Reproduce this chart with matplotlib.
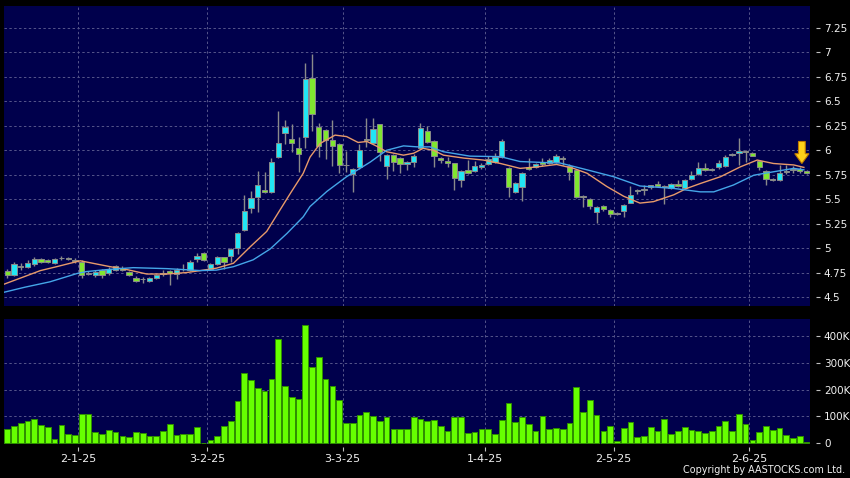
import matplotlib
matplotlib.use('Agg')
import matplotlib.pyplot as plt
from matplotlib.patches import FancyArrow
import numpy as np

# ---------------- data ----------------
opens = [4.77, 4.72, 4.82, 4.81, 4.84, 4.89, 4.88, 4.85, 4.90, 4.90,
         4.88, 4.86, 4.75, 4.72, 4.78, 4.75, 4.78, 4.80, 4.755, 4.69,
         4.68, 4.66, 4.69, 4.74, 4.765, 4.74, 4.79, 4.78, 4.89, 4.945,
         4.79, 4.84, 4.905, 4.92, 5.00, 5.185, 5.41, 5.52, 5.59, 5.57,
         5.93, 6.18, 6.12, 6.02, 6.14, 6.735, 6.235, 6.21, 6.105, 6.06,
         5.85, 5.76, 5.825, 6.12, 6.07, 6.265, 5.84, 5.95, 5.92, 5.855,
         5.885, 6.02, 6.20, 6.09, 5.92, 5.895, 5.865, 5.70, 5.80, 5.79,
         5.825, 5.86, 5.88, 5.93, 5.82, 5.575, 5.62, 5.825, 5.83, 5.885,
         5.87, 5.88, 5.925, 5.84, 5.80, 5.53, 5.50, 5.37, 5.43, 5.39,
         5.36, 5.375, 5.465, 5.58, 5.59, 5.62, 5.66, 5.635, 5.61, 5.66,
         5.61, 5.705, 5.76, 5.815, 5.80, 5.825, 5.84, 5.95, 5.975, 5.99,
         5.97, 5.895, 5.79, 5.71, 5.70, 5.78, 5.80, 5.805, 5.79]
highs = [4.79, 4.86, 4.85, 4.88, 4.91, 4.90, 4.89, 4.90, 4.92, 4.91,
         4.90, 4.88, 4.77, 4.78, 4.79, 4.81, 4.83, 4.82, 4.77, 4.71,
         4.70, 4.70, 4.74, 4.78, 4.78, 4.80, 4.84, 4.88, 4.95, 4.96,
         4.85, 4.92, 4.91, 5.00, 5.16, 5.54, 5.585, 5.79, 5.78, 5.92,
         6.40, 6.31, 6.27, 6.14, 6.895, 6.985, 6.275, 6.22, 6.31, 6.07,
         5.99, 5.82, 6.06, 6.33, 6.33, 6.27, 5.96, 5.96, 5.93, 5.89,
         5.96, 6.275, 6.25, 6.10, 5.93, 5.93, 5.87, 5.80, 5.90, 5.89,
         5.87, 5.94, 5.975, 6.12, 5.83, 5.68, 5.78, 5.92, 5.87, 5.92,
         5.92, 5.96, 5.94, 5.86, 5.81, 5.54, 5.51, 5.43, 5.44, 5.40,
         5.37, 5.45, 5.63, 5.60, 5.645, 5.65, 5.69, 5.64, 5.67, 5.70,
         5.71, 5.79, 5.88, 5.87, 5.82, 5.90, 5.95, 5.97, 6.13, 6.00,
         5.98, 5.90, 5.80, 5.72, 5.85, 5.85, 5.84, 5.83, 5.80]
lows = [4.69, 4.71, 4.78, 4.80, 4.82, 4.85, 4.85, 4.84, 4.88, 4.88,
        4.85, 4.69, 4.72, 4.70, 4.69, 4.73, 4.77, 4.77, 4.71, 4.65,
        4.64, 4.65, 4.68, 4.71, 4.62, 4.68, 4.77, 4.77, 4.86, 4.87,
        4.78, 4.83, 4.79, 4.86, 4.94, 5.17, 5.355, 5.37, 5.56, 5.56,
        5.92, 6.06, 5.985, 5.78, 6.02, 6.20, 5.93, 5.91, 5.84, 5.765,
        5.78, 5.57, 5.81, 6.03, 6.06, 5.89, 5.71, 5.79, 5.765, 5.80,
        5.83, 6.01, 6.07, 5.83, 5.87, 5.83, 5.59, 5.62, 5.76, 5.78,
        5.81, 5.85, 5.87, 5.92, 5.52, 5.56, 5.485, 5.80, 5.82, 5.84,
        5.86, 5.87, 5.85, 5.695, 5.51, 5.42, 5.40, 5.26, 5.38, 5.32,
        5.34, 5.315, 5.46, 5.55, 5.545, 5.60, 5.62, 5.45, 5.60, 5.62,
        5.60, 5.70, 5.75, 5.79, 5.79, 5.81, 5.83, 5.94, 5.85, 5.88,
        5.94, 5.80, 5.65, 5.69, 5.69, 5.76, 5.77, 5.77, 5.76]
closes = [4.72, 4.84, 4.81, 4.85, 4.89, 4.86, 4.86, 4.89, 4.90, 4.89,
          4.87, 4.72, 4.74, 4.76, 4.72, 4.79, 4.82, 4.78, 4.725, 4.66,
          4.68, 4.69, 4.73, 4.745, 4.745, 4.78, 4.785, 4.86, 4.92, 4.88,
          4.84, 4.91, 4.86, 4.99, 5.15, 5.38, 5.51, 5.645, 5.575, 5.88,
          6.07, 6.235, 6.07, 5.96, 6.725, 6.37, 6.045, 6.105, 6.045, 5.85,
          5.845, 5.805, 6.00, 6.10, 6.22, 5.985, 5.95, 5.885, 5.86, 5.88,
          5.945, 6.225, 6.08, 5.94, 5.905, 5.865, 5.72, 5.79, 5.77, 5.84,
          5.85, 5.91, 5.935, 6.095, 5.62, 5.67, 5.77, 5.81, 5.855, 5.855,
          5.905, 5.94, 5.91, 5.775, 5.52, 5.52, 5.43, 5.42, 5.40, 5.35,
          5.35, 5.44, 5.54, 5.59, 5.60, 5.64, 5.63, 5.62, 5.66, 5.635,
          5.70, 5.75, 5.82, 5.80, 5.81, 5.865, 5.935, 5.96, 5.99, 5.98,
          5.945, 5.825, 5.71, 5.695, 5.77, 5.785, 5.805, 5.79, 5.765]
volumes_k = [53, 65, 76, 82, 92, 70, 62, 17, 67, 34,
             31, 108, 109, 43, 35, 50, 41, 29, 25, 43,
             40, 27, 27, 47, 71, 31, 35, 35, 62, 2,
             12, 27, 65, 84, 159, 261, 235, 207, 195, 241,
             389, 212, 171, 165, 440, 286, 320, 241, 214, 161,
             76, 77, 104, 116, 102, 83, 99, 55, 52, 52,
             97, 89, 84, 87, 65, 47, 99, 97, 40, 42,
             52, 55, 36, 88, 149, 81, 98, 73, 47, 102,
             53, 58, 52, 77, 210, 116, 161, 107, 47, 66,
             7, 56, 80, 25, 27, 61, 46, 91, 36, 45,
             60, 50, 46, 39, 47, 66, 83, 46, 109, 72,
             11, 41, 65, 50, 57, 31, 19, 27, 4]

# moving averages (bar index, value)
ma_fast_idx = [-0.5, 2.6, 4.9, 7.3, 9.3, 10.8, 13.0, 15.2, 17.7, 20.6, 23.6, 26.5, 28.5,
               30.9, 33.4, 35.9, 38.3, 40.0, 41.8, 43.7, 44.7, 46.2, 48.4, 50.1, 51.8,
               53.1, 54.6, 56.0, 58.5, 60.0, 61.4, 62.9, 64.4, 67.4, 70.3, 72.8, 75.7,
               78.2, 81.1, 83.6, 85.6, 88.5, 91.0, 93.4, 95.4, 98.4, 100.3, 102.3, 105.3,
               108.2, 110.7, 113.1, 116.1, 117.6]
ma_fast_val = [4.63, 4.71, 4.77, 4.81, 4.845, 4.87, 4.84, 4.81, 4.78, 4.735, 4.735, 4.75, 4.77,
               4.795, 4.845, 5.015, 5.17, 5.36, 5.56, 5.765, 5.93, 6.07, 6.155, 6.14, 6.08,
               6.09, 6.04, 5.985, 5.95, 5.97, 6.02, 6.0, 5.95, 5.92, 5.90, 5.865, 5.815,
               5.83, 5.855, 5.815, 5.765, 5.63, 5.53, 5.46, 5.475, 5.545, 5.61, 5.66, 5.73,
               5.83, 5.90, 5.865, 5.85, 5.825]
ma_slow_idx = [-0.5, 2.6, 6.3, 10.3, 11.7, 14.7, 18.6, 23.6, 28.5, 30.9, 33.4, 36.3, 38.8,
               41.3, 43.7, 44.7, 47.2, 50.1, 53.6, 56.0, 58.5, 60.5, 62.4, 64.4, 68.3, 72.8,
               75.7, 79.2, 81.6, 85.6, 89.5, 93.4, 98.4, 102.3, 104.3, 107.2, 110.2, 113.1,
               116.1, 117.6]
ma_slow_val = [4.548, 4.60, 4.655, 4.74, 4.76, 4.78, 4.80, 4.79, 4.77, 4.775, 4.81, 4.88, 4.99,
               5.15, 5.32, 5.425, 5.58, 5.73, 5.88, 6.0, 6.045, 6.035, 6.035, 5.985, 5.94, 5.935,
               5.885, 5.875, 5.87, 5.80, 5.73, 5.635, 5.61, 5.575, 5.575, 5.645, 5.745, 5.78,
               5.815, 5.80]

month_tick_pos = [10.5, 29.5, 49.5, 70.5, 89.5, 109.5]
month_labels = ['2-1-25', '3-2-25', '3-3-25', '1-4-25', '2-5-25', '2-6-25']
price_ticks = [4.5, 4.75, 5.0, 5.25, 5.5, 5.75, 6.0, 6.25, 6.5, 6.75, 7.0, 7.25]
price_tick_labels = ['4.5', '4.75', '5', '5.25', '5.5', '5.75', '6', '6.25', '6.5', '6.75', '7', '7.25']
vol_ticks_k = [0, 100, 200, 300, 400]
vol_tick_labels = ['0', '100K', '200K', '300K', '400K']

# ---------------- style ----------------
BG = '#00004c'
GRID = '#55558a'
UP = '#22e6f4'
DOWN = '#80e630'
FLAT = '#a0a8a0'
EDGE = '#8a8a8a'
VOL = '#66ff00'
VOL_EDGE = '#2f8f00'
TXT = '#f0f0f0'
FS_Y = 7.5
FS_X = 8.0

W, H = 850, 478
fig = plt.figure(figsize=(W / 100, H / 100), dpi=100, facecolor='black')
ax = fig.add_axes([4 / W, 1 - 306 / H, 806 / W, 300 / H])
axv = fig.add_axes([4 / W, 1 - 444 / H, 806 / W, 125 / H])

o = np.array(opens); h = np.array(highs); l = np.array(lows); c = np.array(closes)
x = np.arange(len(c))
colors = [UP if cc > oo else (DOWN if cc < oo else FLAT) for oo, cc in zip(o, c)]

for a in (ax, axv):
    a.set_facecolor(BG)
    for s in a.spines.values():
        s.set_visible(False)
    a.set_xlim(-0.47, 118.5)
    a.set_axisbelow(True)

# candles
ax.vlines(x, l, h, color=EDGE, linewidth=1.0, zorder=2)
ax.bar(x, np.abs(c - o), bottom=np.minimum(o, c), width=0.78, color=colors,
       edgecolor=EDGE, linewidth=0.7, zorder=3)
ax.plot(ma_fast_idx, ma_fast_val, color='#e89a6a', linewidth=1.0, zorder=4)
ax.plot(ma_slow_idx, ma_slow_val, color='#45a6e8', linewidth=1.0, zorder=4)

# arrow marking the latest bar
n = len(c)
ax.add_patch(FancyArrow(n - 1.7, h[-1] + 0.29, 0, -0.225, width=1.0, head_width=2.1,
                        head_length=0.1, length_includes_head=True,
                        facecolor='#ffd21a', edgecolor='#c07a00', linewidth=0.8, zorder=6))

ax.set_ylim(4.408, 7.475)
ax.set_yticks(price_ticks)
ax.set_yticklabels(price_tick_labels)
ax.set_xticks(month_tick_pos)
ax.tick_params(axis='x', bottom=False, labelbottom=False)
ax.yaxis.tick_right()
ax.spines['right'].set_position(('outward', 4))
ax.tick_params(axis='y', right=True, left=False, length=3, width=0.8, color='#c0c0c0',
               labelcolor=TXT, labelsize=FS_Y, pad=3)
ax.grid(True, color=GRID, linestyle=(0, (2.5, 2.5)), linewidth=0.7)

# volume
vol = np.array(volumes_k) * 1000
axv.bar(x, vol, width=0.84, color=VOL, edgecolor=VOL_EDGE, linewidth=0.7, zorder=3)
axv.set_ylim(-2500, 463000)
axv.set_yticks([v * 1000 for v in vol_ticks_k])
axv.set_yticklabels(vol_tick_labels)
axv.yaxis.tick_right()
axv.spines['right'].set_position(('outward', 4))
axv.tick_params(axis='y', right=True, left=False, length=3, width=0.8, color='#c0c0c0',
                labelcolor=TXT, labelsize=FS_Y, pad=3)
axv.set_xticks(month_tick_pos)
axv.set_xticklabels(month_labels)
axv.spines['bottom'].set_position(('outward', 2))
axv.tick_params(axis='x', length=3, width=0.8, color='#c0c0c0', labelcolor=TXT,
                labelsize=FS_X, pad=2)
axv.grid(True, color=GRID, linestyle=(0, (2.5, 2.5)), linewidth=0.7)
ygl = axv.get_ygridlines()
ygl[0].set_visible(False)

fig.text(845 / W, 1 - 470 / H, 'Copyright by AASTOCKS.com Ltd.', color=TXT,
         fontsize=6.9, ha='right', va='center')

fig.savefig('out.png', dpi=100, facecolor='black')
